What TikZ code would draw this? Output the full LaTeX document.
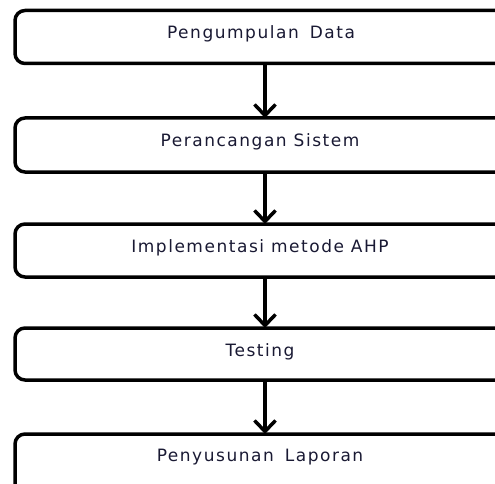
\documentclass[tikz,border=0pt]{standalone}
\usepackage{fontspec}
\setmainfont{DejaVu Sans}[LetterSpace=9]
\usetikzlibrary{arrows.meta,calc}
\definecolor{txt}{rgb}{0.1,0.1,0.2}
\tikzset{
  box/.style={draw=black, line width=3.5pt, rounded corners=10pt, anchor=north west,
    minimum width=520pt, inner sep=0pt, outer sep=0pt},
  lbl/.style={text=txt, font=\fontsize{17}{20}\selectfont, inner sep=0pt, anchor=base},
  arr/.style={line width=3.8pt, -{Straight Barb[length=11pt,width=21pt,line width=3.5pt]}}
}
\begin{document}
\begin{tikzpicture}[x=1pt,y=-1pt]
\useasboundingbox (0,0) rectangle (495,484);
\clip (0,0) rectangle (495,484);
\node[box, minimum height=53pt] (b1) at (15,10.5) {};
\node[box, minimum height=54pt] (b2) at (15,118) {};
\node[box, minimum height=53pt] (b3) at (15,224) {};
\node[box, minimum height=52pt] (b4) at (15,328) {};
\node[box, minimum height=80pt] (b5) at (15,434) {};
\node[lbl] (t1) at (261,38.5) {Pengumpulan\hspace{4pt} Data};
\node[lbl] (t2) at (260,146.5) {Perancangan Sistem};
\node[lbl] (t3) at (260,252.5) {Implementasi metode AHP};
\node[lbl] (t4) at (260,356.5) {Testing};
\node[lbl] (t5) at (260,461.5) {Penyusunan\hspace{4pt} Laporan};
\coordinate (ax) at (265,0);
\draw[arr] ([yshift=-2pt]b1.south -| ax) -- (b2.north -| ax);
\draw[arr] ([yshift=-2pt]b2.south -| ax) -- (b3.north -| ax);
\draw[arr] ([yshift=-2pt]b3.south -| ax) -- (b4.north -| ax);
\draw[arr] ([yshift=-2pt]b4.south -| ax) -- (b5.north -| ax);
\end{tikzpicture}
\end{document}
